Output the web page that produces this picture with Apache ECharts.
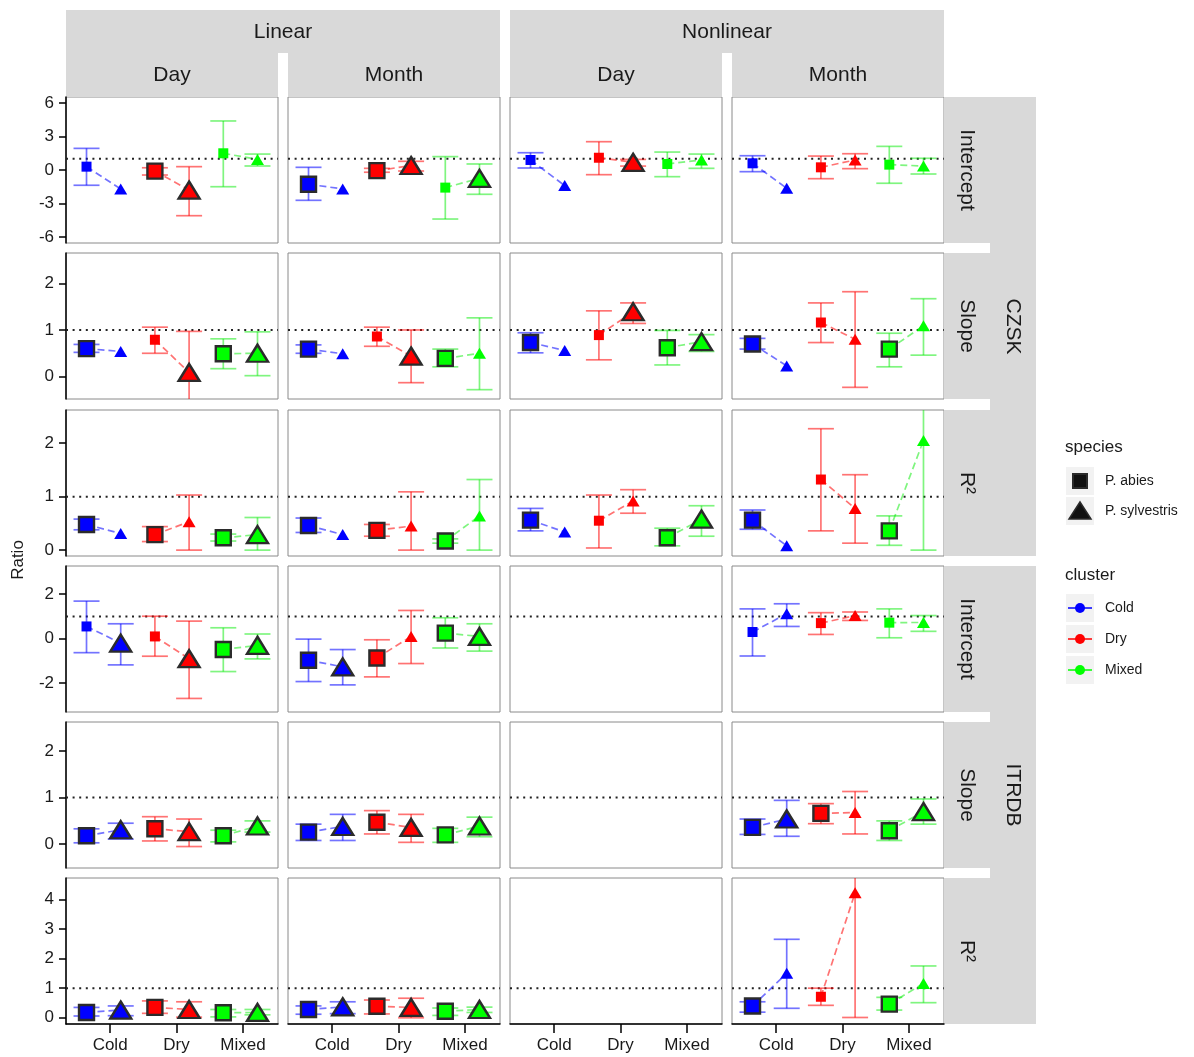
<!DOCTYPE html>
<html>
<head>
<meta charset="utf-8">
<script src="https://cdn.jsdelivr.net/npm/echarts@6/dist/echarts.min.js"></script>
<style>
  html, body { margin: 0; padding: 0; background: #fff; }
  #chart { width: 1194px; height: 1057px; }
</style>
</head>
<body>
<div id="chart"></div>
<script>
// categories / facets
const clusters = ['Cold', 'Dry', 'Mixed'];
const species = ['P. abies', 'P. sylvestris'];
const tickPos = [1.095, 2.066, 3.037];       // where the x tick labels sit
const colTop = ['Linear', 'Nonlinear'];
const colSub = ['Day', 'Month', 'Day', 'Month'];
const rowSub = ['Intercept', 'Slope', 'R²', 'Intercept', 'Slope', 'R²'];
const rowTop = ['CZSK', 'ITRDB'];

// y tick labels per row
const yTicks = [[-6, -3, 0, 3, 6], [0, 1, 2], [0, 1, 2], [-2, 0, 2], [0, 1, 2], [0, 1, 2, 3, 4]];
const yRange = [[-6.55, 6.55], [-0.48, 2.65], [-0.11, 2.62], [-3.3, 3.27], [-0.51, 2.62], [-0.21, 4.72]];

// each point: [ratio, lower, upper, big marker]
// order: Cold abies, Cold sylvestris, Dry abies, Dry sylvestris, Mixed abies, Mixed sylvestris
const czIntLinDay   = [[0.3, -1.37, 1.94, 0], [-1.7, null, null, 0], [-0.1, -0.45, 0.2, 1], [-1.8, -4.1, 0.3, 1], [1.5, -1.5, 4.4, 0], [0.95, 0.36, 1.43, 0]];
const czIntLinMonth = [[-1.28, -2.72, 0.24, 1], [-1.7, null, null, 0], [-0.06, -0.2, 0.15, 1], [0.4, -0.09, 0.78, 1], [-1.58, -4.4, 1.2, 0], [-0.75, -2.18, 0.54, 1]];
const czIntNlDay    = [[0.9, 0.18, 1.55, 0], [-1.4, null, null, 0], [1.1, -0.42, 2.54, 0], [0.69, 0.35, 0.95, 1], [0.54, -0.6, 1.61, 0], [0.9, 0.15, 1.43, 0]];
const czIntNlMonth  = [[0.6, -0.15, 1.28, 0], [-1.64, null, null, 0], [0.24, -0.78, 1.25, 0], [0.9, 0.12, 1.46, 0], [0.48, -1.19, 2.12, 0], [0.36, -0.36, 1.05, 0]];

const czSlpLinDay   = [[0.6, 0.52, 0.69, 1], [0.54, null, null, 0], [0.79, 0.5, 1.06, 0], [0.09, -0.6, 0.97, 1], [0.49, 0.17, 0.81, 1], [0.5, 0.02, 0.96, 1]];
const czSlpLinMonth = [[0.59, 0.5, 0.68, 1], [0.49, null, null, 0], [0.86, 0.65, 1.06, 0], [0.44, -0.13, 1.0, 1], [0.39, 0.21, 0.59, 1], [0.5, -0.28, 1.26, 0]];
const czSlpNlDay    = [[0.73, 0.51, 0.94, 1], [0.56, null, null, 0], [0.89, 0.36, 1.41, 0], [1.39, 1.14, 1.58, 1], [0.62, 0.25, 0.99, 1], [0.75, 0.54, 0.9, 1]];
const czSlpNlMonth  = [[0.7, 0.59, 0.82, 1], [0.23, null, null, 0], [1.16, 0.73, 1.58, 0], [0.8, -0.23, 1.82, 0], [0.59, 0.21, 0.93, 1], [1.09, 0.46, 1.67, 0]];

const czR2LinDay    = [[0.48, 0.38, 0.58, 1], [0.31, null, null, 0], [0.29, 0.16, 0.44, 1], [0.53, 0, 1.03, 0], [0.23, 0.17, 0.3, 1], [0.29, 0, 0.61, 1]];
const czR2LinMonth  = [[0.46, 0.33, 0.6, 1], [0.29, null, null, 0], [0.37, 0.26, 0.48, 1], [0.45, 0, 1.09, 0], [0.17, 0.13, 0.21, 1], [0.64, 0, 1.32, 0]];
const czR2NlDay     = [[0.56, 0.36, 0.78, 1], [0.34, null, null, 0], [0.55, 0.04, 1.03, 0], [0.92, 0.69, 1.13, 0], [0.23, 0.08, 0.41, 1], [0.58, 0.26, 0.83, 1]];
const czR2NlMonth   = [[0.56, 0.39, 0.75, 1], [0.08, null, null, 0], [1.32, 0.36, 2.27, 0], [0.78, 0.13, 1.41, 0], [0.36, 0.09, 0.64, 1], [2.05, 0, 2.9, 0]];

const itIntLinDay   = [[0.55, -0.63, 1.69, 0], [-0.2, -1.18, 0.67, 1], [0.1, -0.79, 1.01, 0], [-0.9, -2.69, 0.79, 1], [-0.49, -1.48, 0.49, 1], [-0.3, -0.91, 0.21, 1]];
const itIntLinMonth = [[-0.97, -1.93, -0.02, 1], [-1.27, -2.08, -0.49, 1], [-0.87, -1.72, -0.05, 1], [0.1, -1.12, 1.27, 0], [0.25, -0.42, 0.94, 1], [0.1, -0.56, 0.67, 1]];
const itIntNlMonth  = [[0.3, -0.78, 1.34, 0], [1.12, 0.55, 1.57, 0], [0.7, 0.19, 1.17, 0], [1.04, 0.82, 1.2, 0], [0.72, 0.04, 1.34, 0], [0.73, 0.33, 1.04, 0]];

const itSlpLinDay   = [[0.18, 0.03, 0.33, 1], [0.31, 0.11, 0.45, 1], [0.33, 0.07, 0.59, 1], [0.27, -0.05, 0.54, 1], [0.18, 0.05, 0.3, 1], [0.39, 0.26, 0.5, 1]];
const itSlpLinMonth = [[0.26, 0.08, 0.43, 1], [0.38, 0.08, 0.64, 1], [0.47, 0.22, 0.72, 1], [0.36, 0.04, 0.64, 1], [0.2, 0.04, 0.34, 1], [0.39, 0.16, 0.58, 1]];
const itSlpNlMonth  = [[0.36, 0.21, 0.54, 1], [0.54, 0.17, 0.94, 1], [0.66, 0.44, 0.87, 1], [0.68, 0.22, 1.13, 0], [0.29, 0.08, 0.5, 1], [0.7, 0.43, 0.97, 1]];

const itR2LinDay    = [[0.18, 0.06, 0.35, 1], [0.26, 0.07, 0.4, 1], [0.35, 0.15, 0.57, 1], [0.28, 0.02, 0.54, 1], [0.17, 0.03, 0.28, 1], [0.18, 0.1, 0.28, 1]];
const itR2LinMonth  = [[0.28, 0.12, 0.4, 1], [0.37, 0.14, 0.54, 1], [0.39, 0.13, 0.6, 1], [0.35, 0, 0.66, 1], [0.22, 0.08, 0.33, 1], [0.28, 0.18, 0.36, 1]];
const itR2NlMonth   = [[0.4, 0.19, 0.54, 1], [1.5, 0.32, 2.65, 0], [0.71, 0.42, 1.0, 0], [4.22, 0.01, 5.5, 0], [0.46, 0.26, 0.69, 1], [1.16, 0.51, 1.75, 0]];

const panels = [
  [czIntLinDay, czIntLinMonth, czIntNlDay, czIntNlMonth],
  [czSlpLinDay, czSlpLinMonth, czSlpNlDay, czSlpNlMonth],
  [czR2LinDay, czR2LinMonth, czR2NlDay, czR2NlMonth],
  [itIntLinDay, itIntLinMonth, null, itIntNlMonth],
  [itSlpLinDay, itSlpLinMonth, null, itSlpNlMonth],
  [itR2LinDay, itR2LinMonth, null, itR2NlMonth]
];

const colors = ['#0000ff', '#ff0000', '#00ff00'];
const fadeColors = ['rgba(0,0,255,0.55)', 'rgba(255,0,0,0.55)', 'rgba(0,235,0,0.5)'];
const FONT = 'Liberation Sans, Arial, sans-serif';
const TXT = '#1a1a1a';

const panelLeft = [66, 288, 510, 732];
const panelTop = [97, 253, 410, 566, 722, 878];
const PW = 212, PH = 146;
const xMin = 0.45, xMax = 3.55, dodge = 0.25;

function errorbarItem(params, api) {
  const x = api.value(0), lo = api.value(1), hi = api.value(2), k = api.value(3);
  const a = api.coord([x, hi]), b = api.coord([x, lo]);
  const hw = 13;
  const style = { stroke: fadeColors[k], lineWidth: 1.7, fill: null };
  return {
    type: 'group',
    children: [
      { type: 'line', shape: { x1: a[0], y1: a[1], x2: b[0], y2: b[1] }, style },
      { type: 'line', shape: { x1: a[0] - hw, y1: a[1], x2: a[0] + hw, y2: a[1] }, style },
      { type: 'line', shape: { x1: b[0] - hw, y1: b[1], x2: b[0] + hw, y2: b[1] }, style }
    ]
  };
}

const grid = [], xAxis = [], yAxis = [], series = [];

panels.forEach((row, r) => {
  row.forEach((d, c) => {
    const gi = r * 4 + c;
    grid.push({
      left: panelLeft[c], top: panelTop[r], width: PW, height: PH,
      show: true, borderColor: '#8a8a8a', borderWidth: 1, backgroundColor: '#fff'
    });
    const bottom = r === 5;
    xAxis.push({
      gridIndex: gi, type: 'value', min: xMin, max: xMax,
      axisLine: { show: bottom, onZero: false, lineStyle: { color: '#000', width: 1.5 } },
      axisTick: { show: bottom, length: 9, customValues: tickPos, lineStyle: { color: '#000', width: 1.5 } },
      axisLabel: {
        show: bottom, customValues: tickPos, margin: 13,
        fontSize: 17, fontFamily: FONT, color: TXT,
        formatter: v => {
          let best = 0;
          tickPos.forEach((t, i) => { if (Math.abs(t - v) < Math.abs(tickPos[best] - v)) best = i; });
          return clusters[best];
        }
      },
      splitLine: { show: false }
    });
    const left = c === 0;
    yAxis.push({
      gridIndex: gi, type: 'value', min: yRange[r][0], max: yRange[r][1],
      axisLine: { show: left, onZero: false, lineStyle: { color: '#000', width: 1.5 } },
      axisTick: { show: left, length: 7, customValues: yTicks[r], lineStyle: { color: '#000', width: 1.5 } },
      axisLabel: { show: left, customValues: yTicks[r], margin: 12, fontSize: 17, fontFamily: FONT, color: TXT },
      splitLine: { show: false }
    });

    // reference line at ratio = 1
    series.push({
      type: 'line', xAxisIndex: gi, yAxisIndex: gi, silent: true, z: 1,
      symbol: 'none', data: [[xMin, 1], [xMax, 1]],
      lineStyle: { color: '#222', width: 2, type: [2, 4.6] }
    });
    if (!d) return;

    const xs = d.map((p, i) => Math.floor(i / 2) + 1 + (i % 2 ? dodge : -dodge));

    series.push({
      type: 'custom', xAxisIndex: gi, yAxisIndex: gi, silent: true, z: 2, clip: true,
      renderItem: errorbarItem,
      data: d.map((p, i) => [xs[i], p[1], p[2], Math.floor(i / 2)]).filter(v => v[1] !== null)
    });

    clusters.forEach((cl, k) => {
      series.push({
        type: 'line', xAxisIndex: gi, yAxisIndex: gi, silent: true, z: 3, symbol: 'none',
        data: [[xs[2 * k], d[2 * k][0]], [xs[2 * k + 1], d[2 * k + 1][0]]],
        lineStyle: { color: fadeColors[k], width: 1.7, type: [7, 4] }
      });
    });

    series.push({
      type: 'scatter', xAxisIndex: gi, yAxisIndex: gi, silent: true, z: 4,
      data: d.map((p, i) => {
        const tri = i % 2 === 1, big = p[3] === 1, k = Math.floor(i / 2);
        return {
          value: [xs[i], p[0]],
          symbol: tri ? 'triangle' : 'rect',
          symbolSize: big ? (tri ? [21, 17] : 15) : (tri ? [13, 11] : 10),
          itemStyle: { color: colors[k], borderColor: big ? '#2b2b2b' : colors[k], borderWidth: big ? 2.4 : 0, opacity: 1 }
        };
      })
    });
  });
});

// strips, titles and legend
const STRIP = '#d9d9d9';
const graphic = [];
const txt = (x, y, text, size, extra) => Object.assign({
  type: 'text', x, y, silent: true,
  style: { text, fontSize: size, fontFamily: FONT, fill: TXT, align: 'center', verticalAlign: 'middle' }
}, extra || {});
const leftTxt = (x, y, text, size) => txt(x, y, text, size, {
  style: { text, fontSize: size, fontFamily: FONT, fill: TXT, align: 'left', verticalAlign: 'middle' }
});

// top strips
[0, 1].forEach(i => {
  const l = panelLeft[2 * i], rr = panelLeft[2 * i + 1] + PW;
  graphic.push({ type: 'rect', shape: { x: l, y: 10, width: rr - l, height: 87 }, style: { fill: STRIP }, silent: true });
  graphic.push({ type: 'rect', shape: { x: panelLeft[2 * i] + PW, y: 53, width: panelLeft[2 * i + 1] - panelLeft[2 * i] - PW, height: 44 }, style: { fill: '#fff' }, silent: true });
  graphic.push(txt((l + rr) / 2, 32, colTop[i], 21));
});
colSub.forEach((s, c) => graphic.push(txt(panelLeft[c] + PW / 2, 75, s, 21)));

// right strips
panelTop.forEach((t, r) => {
  graphic.push({ type: 'rect', shape: { x: 944, y: t, width: 46, height: PH }, style: { fill: STRIP }, silent: true });
  graphic.push(txt(967, t + PH / 2, rowSub[r], 21, { rotation: -Math.PI / 2 }));
});
[0, 1].forEach(i => {
  const t = panelTop[3 * i], b = panelTop[3 * i + 2] + PH;
  graphic.push({ type: 'rect', shape: { x: 990, y: t, width: 46, height: b - t }, style: { fill: STRIP }, silent: true });
  graphic.push(txt(1013, (t + b) / 2, rowTop[i], 21, { rotation: -Math.PI / 2 }));
});

graphic.push(txt(18, 560, 'Ratio', 17, { rotation: Math.PI / 2 }));

// legend: species
graphic.push(leftTxt(1065, 447, 'species', 17));
species.forEach((s, i) => {
  const cy = 481 + i * 30;
  graphic.push({ type: 'rect', shape: { x: 1066, y: cy - 14, width: 28, height: 28 }, style: { fill: '#f2f2f2' }, silent: true });
  if (i === 0) {
    graphic.push({ type: 'rect', shape: { x: 1073, y: cy - 7, width: 14, height: 14 }, style: { fill: '#111', stroke: '#2b2b2b', lineWidth: 2 }, silent: true });
  } else {
    graphic.push({ type: 'polygon', shape: { points: [[1080, cy - 9], [1091, cy + 8], [1069, cy + 8]] }, style: { fill: '#111', stroke: '#2b2b2b', lineWidth: 1.5 }, silent: true });
  }
  graphic.push(leftTxt(1105, cy, s, 14));
});

// legend: cluster
graphic.push(leftTxt(1065, 575, 'cluster', 17));
clusters.forEach((cl, k) => {
  const cy = 608 + k * 31;
  graphic.push({ type: 'rect', shape: { x: 1066, y: cy - 14, width: 28, height: 28 }, style: { fill: '#f2f2f2' }, silent: true });
  graphic.push({ type: 'line', shape: { x1: 1068, y1: cy, x2: 1092, y2: cy }, style: { stroke: colors[k], lineWidth: 1.5 }, silent: true });
  graphic.push({ type: 'circle', shape: { cx: 1080, cy, r: 5 }, style: { fill: colors[k] }, silent: true });
  graphic.push(leftTxt(1105, cy, cl, 14));
});

const chart = echarts.init(document.getElementById('chart'));
chart.setOption({
  animation: false,
  backgroundColor: '#fff',
  grid, xAxis, yAxis, series, graphic
});
</script>
</body>
</html>
